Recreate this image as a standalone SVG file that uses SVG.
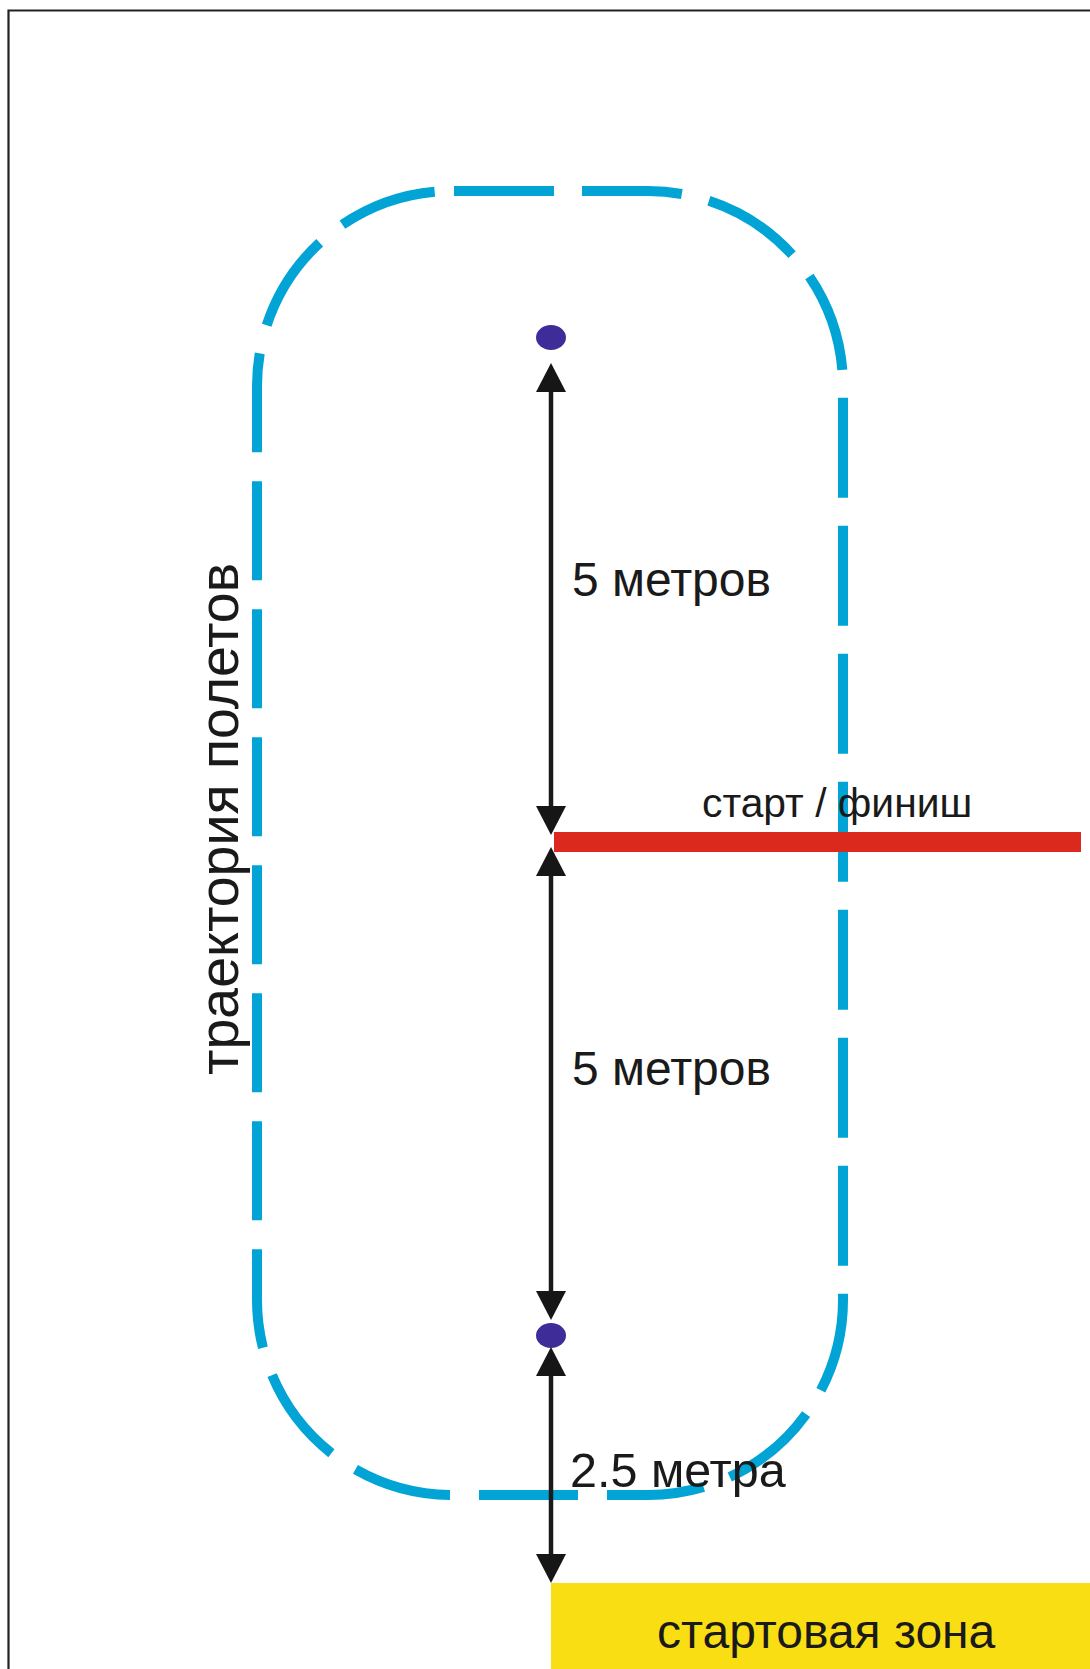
<svg xmlns="http://www.w3.org/2000/svg" width="1090" height="1669" viewBox="0 0 1090 1669">
<defs>
<style>
.lbl{font-family:"Liberation Sans",Arial,sans-serif;fill:#1a1a1a}
.track{fill:none;stroke:#02a4d5;stroke-width:10}
.dim{stroke:#1a1a1a;stroke-width:4.5;fill:none}
.head{fill:#161616}
.dot{fill:#3e2c98}
</style>
<path id="up" d="M0,0 L15,29 L-15,29 Z"/>
<path id="down" d="M0,0 L15,-29 L-15,-29 Z"/>
</defs>
<rect width="1090" height="1669" fill="#fff"/>
<path id="frame" d="M8.5,1669 V10.5 H1090" fill="none" stroke="#222" stroke-width="2.2"/>
<g id="start-zone">
<rect x="551" y="1583" width="539" height="86" fill="#f9de13"/>
<text class="lbl" x="657" y="1648" font-size="48">стартовая зона</text>
</g>
<g id="track">
<path class="track" d="M452,191 H648 A195,195 0 0 1 843,386 V1300 A195,195 0 0 1 648,1495" stroke-dasharray="100 28" stroke-dashoffset="126"/>
<path class="track" d="M648,1495 H452 A195,195 0 0 1 257,1300 V386 A195,195 0 0 1 452,191" stroke-dasharray="99 29" stroke-dashoffset="58"/>
<text class="lbl" transform="translate(238,1075) rotate(-90)" font-size="55.5">траектория полетов</text>
</g>
<g id="start-finish">
<rect x="554" y="832" width="527" height="20" fill="#dc291e"/>
<text class="lbl" x="702" y="817" font-size="40.8">старт / финиш</text>
</g>
<g id="point-top"><ellipse class="dot" cx="551" cy="337.5" rx="15" ry="12.5"/></g>
<g id="point-bottom"><ellipse class="dot" cx="551" cy="1335.5" rx="15" ry="12.5"/></g>
<g id="connectors">
<line class="dim" x1="551" y1="380" x2="551" y2="818"/>
<use href="#up" x="551" y="363" class="head"/>
<use href="#down" x="551" y="835" class="head"/>
<line class="dim" x1="551" y1="865" x2="551" y2="1302"/>
<use href="#up" x="551" y="847" class="head"/>
<use href="#down" x="551" y="1320" class="head"/>
<line class="dim" x1="551" y1="1365" x2="551" y2="1566"/>
<use href="#up" x="551" y="1347" class="head"/>
<use href="#down" x="551" y="1583" class="head"/>
</g>
<g id="labels">
<text class="lbl" x="572" y="596" font-size="48">5 метров</text>
<text class="lbl" x="572" y="1085" font-size="48">5 метров</text>
<text class="lbl" x="570" y="1487" font-size="48.5">2.5 метра</text>
</g>
</svg>
